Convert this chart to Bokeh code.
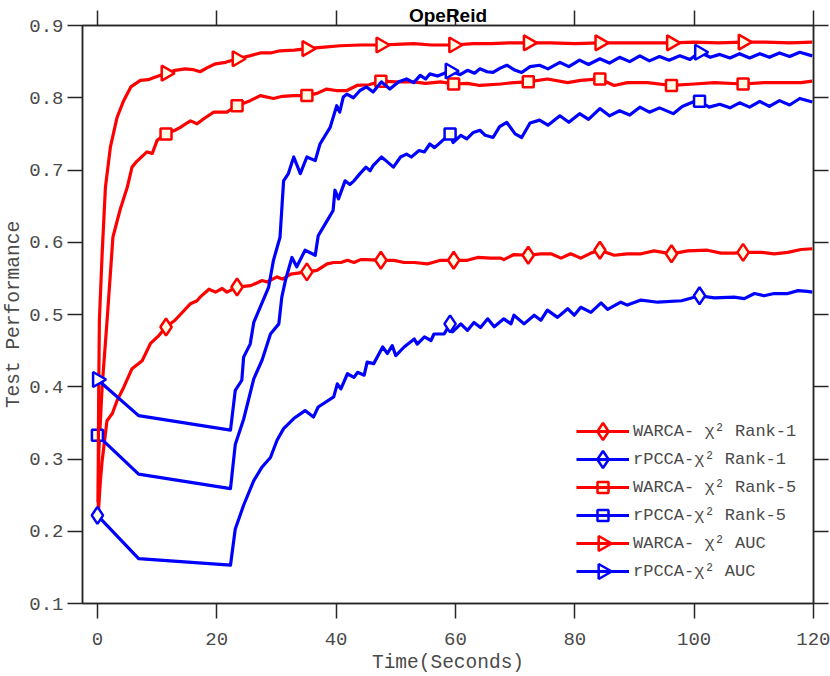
import numpy as np
from bokeh.plotting import figure
from bokeh.models import (Range1d, LinearAxis, FixedTicker, Legend, LegendItem,
                          CustomJSTickFormatter)
from bokeh.embed import file_html
from bokeh.resources import INLINE

# ---------------- data ----------------
x_ticks = [0, 20, 40, 60, 80, 100, 120]
y_ticks = [0.1, 0.2, 0.3, 0.4, 0.5, 0.6, 0.7, 0.8, 0.9]

warca_r1_x = [0.15, 0.5, 0.8, 1.6, 2.5, 3.3, 4.4, 5.8, 7.5, 8.9, 10.2, 11.4, 13.0, 13.9, 15.6,
              16.7, 17.2, 18.7, 19.8, 20.9, 21.7, 23.4, 25.7, 27.6, 28.4, 30.1, 31.0, 32.4,
              35.1, 36.8, 38.5, 39.6, 40.8, 41.9, 43.0, 44.1, 45.2, 47.5, 49.7, 51.4, 53.1,
              55.3, 57.5, 59.7, 62.0, 63.7, 65.9, 67.6, 68.1, 69.8, 72.2, 74.3, 76.0, 77.7,
              79.3, 81.0, 82.7, 84.2, 86.6, 88.8, 91.1, 93.3, 96.2, 98.9, 102.2, 104.5,
              106.7, 108.2, 111.2, 113.4, 115.7, 117.9, 119.8]
warca_r1_y = [0.225, 0.270, 0.298, 0.353, 0.363, 0.381, 0.399, 0.425, 0.436, 0.460, 0.470,
              0.482, 0.492, 0.500, 0.515, 0.519, 0.524, 0.535, 0.531, 0.536, 0.531, 0.538,
              0.540, 0.547, 0.545, 0.552, 0.549, 0.556, 0.559, 0.561, 0.570, 0.572, 0.572,
              0.575, 0.572, 0.576, 0.576, 0.575, 0.575, 0.572, 0.572, 0.570, 0.575, 0.575,
              0.575, 0.579, 0.578, 0.578, 0.576, 0.583, 0.582, 0.584, 0.584, 0.578, 0.584,
              0.578, 0.585, 0.589, 0.582, 0.584, 0.584, 0.588, 0.584, 0.588, 0.589, 0.585,
              0.585, 0.586, 0.586, 0.584, 0.586, 0.590, 0.591]

rpcca_r1_x = [0.0, 6.9, 22.3, 23.1, 24.5, 26.2, 27.6, 29.0, 30.1, 31.2, 32.9, 34.8, 36.2, 37.0,
              39.6, 40.2, 40.8, 41.9, 43.0, 43.6, 44.7, 45.2, 46.3, 47.8, 48.6, 49.4, 50.0,
              51.4, 53.1, 53.6, 54.8, 55.9, 56.4, 58.1, 59.1, 59.5, 60.9, 62.0, 63.1, 64.2,
              65.4, 66.5, 68.1, 69.3, 69.8, 71.5, 73.2, 74.3, 75.4, 77.1, 78.8, 79.9, 81.0,
              82.7, 84.4, 85.5, 87.7, 88.8, 91.1, 93.9, 97.9, 100.9, 103.4, 106.7, 108.4,
              110.1, 111.7, 113.4, 115.7, 117.4, 119.0, 119.8]
rpcca_r1_y = [0.222, 0.162, 0.153, 0.203, 0.236, 0.270, 0.289, 0.302, 0.326, 0.342, 0.356,
              0.367, 0.358, 0.372, 0.386, 0.404, 0.397, 0.418, 0.413, 0.420, 0.416, 0.434,
              0.432, 0.455, 0.446, 0.457, 0.443, 0.455, 0.466, 0.459, 0.469, 0.464, 0.473,
              0.473, 0.487, 0.476, 0.487, 0.478, 0.489, 0.482, 0.494, 0.483, 0.494, 0.487,
              0.499, 0.487, 0.499, 0.492, 0.506, 0.496, 0.508, 0.499, 0.510, 0.503, 0.516,
              0.507, 0.517, 0.513, 0.520, 0.517, 0.519, 0.526, 0.523, 0.524, 0.522, 0.529,
              0.526, 0.529, 0.529, 0.533, 0.532, 0.531]

warca_r5_x = [0.15, 0.22, 0.79, 1.62, 2.6, 3.8, 5.0, 5.8, 6.6, 8.3, 9.2, 10.0, 11.5, 13.0,
              13.9, 15.0, 15.6, 16.7, 18.0, 19.5, 21.7, 23.4, 25.6, 27.3, 29.5, 31.0, 32.9,
              35.1, 36.8, 38.4, 40.0, 41.8, 43.5, 45.5, 47.6, 50.0, 52.9, 55.0, 57.5, 59.7,
              62.0, 64.1, 67.6, 69.8, 72.2, 75.4, 78.8, 81.0, 84.2, 86.6, 88.8, 92.2, 96.2,
              100.0, 103.4, 108.2, 111.7, 114.3, 117.9, 119.8]
warca_r5_y = [0.235, 0.307, 0.400, 0.492, 0.607, 0.645, 0.676, 0.704, 0.712, 0.725, 0.723,
              0.741, 0.750, 0.755, 0.759, 0.765, 0.768, 0.764, 0.772, 0.780, 0.780, 0.789,
              0.796, 0.803, 0.799, 0.802, 0.803, 0.803, 0.806, 0.812, 0.810, 0.810, 0.817,
              0.818, 0.823, 0.822, 0.822, 0.820, 0.822, 0.819, 0.820, 0.817, 0.819, 0.821,
              0.822, 0.826, 0.821, 0.824, 0.826, 0.817, 0.821, 0.821, 0.817, 0.819, 0.821,
              0.819, 0.821, 0.821, 0.821, 0.823]

rpcca_r5_x = [0.0, 6.9, 22.3, 23.1, 24.5, 26.2, 27.6, 29.0, 30.4, 30.9, 31.5, 32.6, 33.4,
              34.8, 36.5, 37.0, 38.5, 39.5, 39.8, 40.4, 41.5, 42.3, 43.0, 44.0, 45.0, 45.7,
              46.2, 47.6, 48.2, 49.6, 50.8, 51.8, 52.6, 53.9, 54.8, 55.7, 56.5, 58.0, 59.1,
              59.6, 60.9, 61.9, 63.0, 64.1, 65.0, 66.3, 67.4, 68.6, 70.0, 71.1, 72.5, 74.1,
              75.5, 77.5, 79.0, 80.8, 82.3, 84.2, 85.8, 87.5, 89.2, 90.9, 92.5, 94.2, 96.5,
              98.0, 99.8, 100.9, 102.5, 104.3, 106.0, 107.6, 109.3, 111.0, 112.6, 114.3,
              116.0, 117.7, 119.8]
rpcca_r5_y = [0.333, 0.279, 0.259, 0.320, 0.355, 0.411, 0.437, 0.473, 0.487, 0.524, 0.547,
              0.579, 0.566, 0.589, 0.582, 0.609, 0.630, 0.644, 0.672, 0.660, 0.685, 0.680,
              0.685, 0.695, 0.704, 0.699, 0.706, 0.718, 0.714, 0.704, 0.718, 0.722, 0.718,
              0.727, 0.725, 0.736, 0.731, 0.742, 0.750, 0.738, 0.748, 0.743, 0.752, 0.755,
              0.748, 0.745, 0.760, 0.766, 0.750, 0.745, 0.765, 0.769, 0.762, 0.775, 0.766,
              0.778, 0.770, 0.785, 0.775, 0.782, 0.776, 0.787, 0.780, 0.786, 0.778, 0.788,
              0.794, 0.795, 0.787, 0.791, 0.786, 0.793, 0.787, 0.795, 0.788, 0.796, 0.790,
              0.799, 0.794]

warca_auc_x = [0.1, 0.22, 0.33, 0.79, 1.34, 2.18, 3.3, 4.4, 5.6, 7.2, 8.5, 9.5, 11.5, 13.0,
               14.7, 16.0, 17.2, 18.5, 19.8, 21.5, 23.4, 25.5, 27.3, 29.0, 30.6, 33.0, 35.1,
               38.0, 40.7, 44.0, 47.5, 50.0, 53.0, 56.0, 59.7, 63.0, 66.0, 69.0, 72.2, 76.0,
               80.0, 84.2, 88.0, 92.0, 96.2, 100.0, 104.0, 108.2, 112.0, 116.0, 119.8]
warca_auc_y = [0.240, 0.400, 0.492, 0.584, 0.676, 0.732, 0.773, 0.796, 0.815, 0.824, 0.825,
               0.828, 0.834, 0.838, 0.840, 0.839, 0.836, 0.842, 0.847, 0.849, 0.854, 0.858,
               0.862, 0.862, 0.865, 0.866, 0.868, 0.870, 0.872, 0.873, 0.873, 0.874, 0.875,
               0.873, 0.873, 0.875, 0.875, 0.876, 0.876, 0.876, 0.875, 0.876, 0.876, 0.876,
               0.876, 0.877, 0.876, 0.877, 0.877, 0.876, 0.877]

rpcca_auc_x = [0.0, 6.9, 22.3, 23.1, 24.2, 24.5, 25.6, 26.2, 28.7, 29.5, 30.6, 31.2, 32.0,
               32.9, 34.0, 35.1, 36.5, 37.3, 39.0, 40.1, 40.6, 41.2, 41.8, 42.9, 44.0, 45.1,
               46.2, 47.6, 49.0, 50.5, 51.8, 53.0, 54.1, 55.0, 55.7, 57.0, 59.1, 60.8, 62.0,
               63.2, 64.1, 65.3, 66.3, 67.5, 68.6, 70.0, 71.1, 72.5, 74.1, 75.5, 77.5, 79.0,
               80.8, 82.3, 84.2, 85.8, 87.5, 89.2, 90.9, 92.5, 94.2, 95.8, 97.6, 99.3, 100.9,
               102.7, 104.3, 106.0, 107.6, 109.3, 111.0, 112.6, 114.3, 116.0, 117.7, 119.8]
rpcca_auc_y = [0.410, 0.360, 0.340, 0.395, 0.409, 0.441, 0.459, 0.489, 0.538, 0.575, 0.607,
               0.685, 0.695, 0.718, 0.695, 0.718, 0.713, 0.736, 0.759, 0.789, 0.780, 0.801,
               0.805, 0.800, 0.810, 0.815, 0.808, 0.822, 0.812, 0.822, 0.826, 0.821, 0.831,
               0.826, 0.833, 0.830, 0.837, 0.832, 0.838, 0.834, 0.840, 0.836, 0.835, 0.841,
               0.845, 0.838, 0.835, 0.843, 0.845, 0.840, 0.849, 0.843, 0.852, 0.846, 0.854,
               0.848, 0.856, 0.850, 0.858, 0.851, 0.857, 0.852, 0.858, 0.853, 0.863, 0.856,
               0.860, 0.855, 0.861, 0.855, 0.861, 0.856, 0.862, 0.857, 0.863, 0.858]

warca_marker_x = [11.5, 23.4, 35.1, 47.5, 59.7, 72.2, 84.2, 96.2, 108.2]
rpcca_marker_x = [0.0, 59.1, 100.9]

labels = ["WARCA- χ² Rank-1", "rPCCA-χ² Rank-1", "WARCA- χ² Rank-5",
          "rPCCA-χ² Rank-5", "WARCA- χ² AUC", "rPCCA-χ² AUC"]
title_text = "OpeReid"
x_label = "Time(Seconds)"
y_label = "Test Performance"

# ---------------- styling / layout ----------------
RED = "#ff0000"
BLUE = "#0000ff"
CREAM = "#fffde3"
AX = "#262626"
TXT = "#4a4a4a"
MONO = "Liberation Mono"

W, H = 830, 676
BL, BR, BT, BB = 82, 17, 25, 73          # borders around the plot frame
FW, FH = W - BL - BR, H - BT - BB        # frame size in px

series = [
    (labels[0], warca_r1_x, warca_r1_y, RED, "diamond", 17, 0.0, warca_marker_x),
    (labels[1], rpcca_r1_x, rpcca_r1_y, BLUE, "diamond", 17, 0.0, rpcca_marker_x),
    (labels[2], warca_r5_x, warca_r5_y, RED, "square", 11, 0.0, warca_marker_x),
    (labels[3], rpcca_r5_x, rpcca_r5_y, BLUE, "square", 11, 0.0, rpcca_marker_x),
    (labels[4], warca_auc_x, warca_auc_y, RED, "triangle", 15, -np.pi / 2, warca_marker_x),
    (labels[5], rpcca_auc_x, rpcca_auc_y, BLUE, "triangle", 15, -np.pi / 2, rpcca_marker_x),
]

p = figure(width=W, height=H, output_backend="svg", toolbar_location=None,
           x_range=Range1d(-2.5, 120), y_range=Range1d(0.1, 0.9),
           min_border_left=BL, min_border_right=BR, min_border_top=BT, min_border_bottom=BB,
           background_fill_color="white", border_fill_color="white")
p.grid.visible = False
p.outline_line_color = AX
p.outline_line_width = 1.5
# pixel ranges of the frame (used only to place the legend's marker symbols)
p.extra_x_ranges = {"px": Range1d(0, FW)}
p.extra_y_ranges = {"px": Range1d(0, FH)}


def style_axis(ax, ticks, show_labels):
    ax.ticker = FixedTicker(ticks=ticks)
    ax.major_tick_out = 15
    ax.major_tick_in = 0
    ax.minor_tick_out = 0
    ax.minor_tick_in = 0
    ax.axis_line_color = AX
    ax.axis_line_width = 1.5
    ax.major_tick_line_color = AX
    ax.major_tick_line_width = 1.5
    ax.axis_label_text_font = MONO
    ax.axis_label_text_font_size = "19.5px"
    ax.axis_label_text_font_style = "normal"
    ax.axis_label_text_color = TXT
    if show_labels:
        ax.major_label_text_font = MONO
        ax.major_label_text_font_size = "19px"
        ax.major_label_text_color = TXT
    else:
        ax.formatter = CustomJSTickFormatter(code="return ''")
        ax.major_label_text_font_size = "0px"
        ax.major_label_standoff = 0


xa = p.xaxis[0]
style_axis(xa, x_ticks, True)
xa.major_label_standoff = 14
xa.axis_label = x_label
xa.axis_label_standoff = 4

ya = p.yaxis[0]
style_axis(ya, y_ticks, True)
ya.major_label_standoff = 4
ya.axis_label = y_label
ya.axis_label_standoff = 1

top_ax = LinearAxis()
style_axis(top_ax, x_ticks, False)
top_ax.axis_label = title_text
top_ax.axis_label_text_font = "Liberation Sans"
top_ax.axis_label_text_font_style = "bold"
top_ax.axis_label_text_font_size = "19px"
top_ax.axis_label_text_color = "black"
top_ax.axis_label_standoff = -15
p.add_layout(top_ax, "above")

right_ax = LinearAxis()
style_axis(right_ax, y_ticks, False)
p.add_layout(right_ax, "right")

# legend geometry (px)
LEG_X = 576            # left end of legend line
GLYPH_W = 53
ROW_H, ROW_GAP = 20, 8
LEG_BOTTOM = 581       # bottom of last row
n = len(series)
row_centers = [LEG_BOTTOM - ROW_H / 2 - (n - 1 - i) * (ROW_H + ROW_GAP) for i in range(n)]

items = []
for i, (lab, xs, ys, col, mk, sz, ang, mxs) in enumerate(series):
    lr = p.line(xs, ys, line_color=col, line_width=3.2, line_join="round")
    my = list(np.interp(mxs, xs, ys))
    p.scatter(mxs, my, marker=mk, size=sz, angle=ang, fill_color=CREAM,
              line_color=col, line_width=2.5)
    items.append(LegendItem(label=lab, renderers=[lr]))
    # marker symbol of this legend row, drawn above the legend
    p.scatter([LEG_X + GLYPH_W / 2 - BL], [H - BB - row_centers[i]], marker=mk, size=sz,
              angle=ang, fill_color=CREAM, line_color=col, line_width=2.5,
              x_range_name="px", y_range_name="px", level="overlay")

legend = Legend(items=items, location=(LEG_X - BL, H - BB - LEG_BOTTOM),
                glyph_width=GLYPH_W, glyph_height=ROW_H, label_height=ROW_H,
                spacing=ROW_GAP, padding=0, margin=0, label_standoff=4,
                border_line_color=None, background_fill_alpha=0,
                label_text_font=MONO, label_text_font_size="17px", label_text_color=TXT)
p.add_layout(legend)

open("out.html", "w").write(file_html(p, INLINE))
